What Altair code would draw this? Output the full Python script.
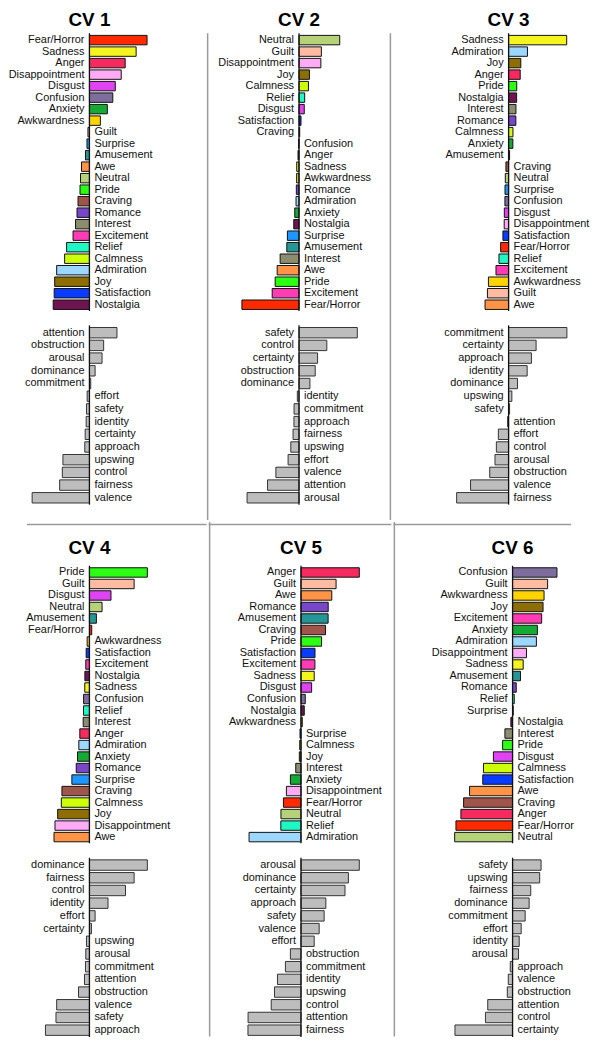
import altair as alt
import pandas as pd

FONT = "Liberation Sans"

# ---------------- data ----------------
emotion_colors = {
    "Fear/Horror": "#ff2a00", "Sadness": "#f4f41e", "Anger": "#f52a5f",
    "Disappointment": "#ffaaf5", "Disgust": "#e043f2", "Confusion": "#7d6e9e",
    "Anxiety": "#14aa35", "Awkwardness": "#ffd400", "Guilt": "#ffbca2",
    "Surprise": "#1e96ff", "Amusement": "#249696", "Awe": "#ff9446",
    "Neutral": "#b5d278", "Pride": "#2aff14", "Craving": "#a0554b",
    "Romance": "#7846c8", "Interest": "#8c8c6e", "Excitement": "#ff3cb4",
    "Relief": "#1ef8c3", "Calmness": "#cdff0a", "Admiration": "#9bd7ff",
    "Joy": "#8c6e05", "Satisfaction": "#0a3cff", "Nostalgia": "#6e1450",
}

titles = ["CV 1", "CV 2", "CV 3", "CV 4", "CV 5", "CV 6"]

cv1_emotions = ["Fear/Horror", "Sadness", "Anger", "Disappointment", "Disgust", "Confusion",
                "Anxiety", "Awkwardness", "Guilt", "Surprise", "Amusement", "Awe", "Neutral",
                "Pride", "Craving", "Romance", "Interest", "Excitement", "Relief", "Calmness",
                "Admiration", "Joy", "Satisfaction", "Nostalgia"]
cv1_emotion_values = [0.58, 0.47, 0.36, 0.32, 0.26, 0.235, 0.18, 0.11, -0.015, -0.025, -0.04,
                      -0.08, -0.09, -0.095, -0.115, -0.125, -0.14, -0.165, -0.23, -0.25, -0.33,
                      -0.35, -0.355, -0.365]

cv2_emotions = ["Neutral", "Guilt", "Disappointment", "Joy", "Calmness", "Relief", "Disgust",
                "Satisfaction", "Craving", "Confusion", "Anger", "Sadness", "Awkwardness",
                "Romance", "Admiration", "Anxiety", "Nostalgia", "Surprise", "Amusement",
                "Interest", "Awe", "Pride", "Excitement", "Fear/Horror"]
cv2_emotion_values = [0.41, 0.225, 0.22, 0.105, 0.095, 0.057, 0.053, 0.02, 0.007, -0.003, -0.01,
                      -0.023, -0.024, -0.027, -0.03, -0.043, -0.053, -0.117, -0.123, -0.19,
                      -0.22, -0.24, -0.27, -0.575]

cv3_emotions = ["Sadness", "Admiration", "Joy", "Anger", "Pride", "Nostalgia", "Interest",
                "Romance", "Calmness", "Anxiety", "Amusement", "Craving", "Neutral", "Surprise",
                "Confusion", "Disgust", "Disappointment", "Satisfaction", "Fear/Horror", "Relief",
                "Excitement", "Awkwardness", "Guilt", "Awe"]
cv3_emotion_values = [0.585, 0.19, 0.123, 0.117, 0.082, 0.081, 0.074, 0.073, 0.044, 0.043, 0.01,
                      -0.027, -0.033, -0.036, -0.037, -0.043, -0.044, -0.057, -0.08, -0.097,
                      -0.127, -0.203, -0.213, -0.237]

cv4_emotions = ["Pride", "Guilt", "Disgust", "Neutral", "Amusement", "Fear/Horror", "Awkwardness",
                "Satisfaction", "Excitement", "Nostalgia", "Sadness", "Confusion", "Relief",
                "Interest", "Anger", "Admiration", "Anxiety", "Romance", "Surprise", "Craving",
                "Calmness", "Joy", "Disappointment", "Awe"]
cv4_emotion_values = [0.583, 0.45, 0.217, 0.127, 0.07, 0.023, -0.023, -0.033, -0.037, -0.046,
                      -0.047, -0.059, -0.06, -0.063, -0.097, -0.107, -0.12, -0.133, -0.177,
                      -0.277, -0.283, -0.32, -0.347, -0.357]

cv5_emotions = ["Anger", "Guilt", "Awe", "Romance", "Amusement", "Craving", "Pride",
                "Satisfaction", "Excitement", "Sadness", "Disgust", "Confusion", "Nostalgia",
                "Awkwardness", "Surprise", "Calmness", "Joy", "Interest", "Anxiety",
                "Disappointment", "Fear/Horror", "Neutral", "Relief", "Admiration"]
cv5_emotion_values = [0.587, 0.353, 0.31, 0.274, 0.273, 0.247, 0.207, 0.141, 0.14, 0.133, 0.107,
                      0.043, 0.033, 0.013, -0.01, -0.013, -0.017, -0.053, -0.107, -0.147,
                      -0.177, -0.202, -0.203, -0.523]

cv6_emotions = ["Confusion", "Guilt", "Awkwardness", "Joy", "Excitement", "Anxiety", "Admiration",
                "Disappointment", "Sadness", "Amusement", "Romance", "Relief", "Surprise",
                "Nostalgia", "Interest", "Pride", "Disgust", "Calmness", "Satisfaction", "Awe",
                "Craving", "Anger", "Fear/Horror", "Neutral"]
cv6_emotion_values = [0.447, 0.353, 0.317, 0.307, 0.293, 0.25, 0.24, 0.14, 0.107, 0.08, 0.037,
                      0.017, 0.007, -0.017, -0.077, -0.1, -0.193, -0.293, -0.3, -0.433, -0.493,
                      -0.52, -0.57, -0.583]

cv1_dims = ["attention", "obstruction", "arousal", "dominance", "commitment", "effort", "safety",
            "identity", "certainty", "approach", "upswing", "control", "fairness", "valence"]
cv1_dim_values = [0.277, 0.143, 0.127, 0.057, 0.013, -0.023, -0.03, -0.033, -0.043, -0.047,
                  -0.267, -0.273, -0.3, -0.577]

cv2_dims = ["safety", "control", "certainty", "obstruction", "dominance", "identity", "commitment",
            "approach", "fairness", "upswing", "effort", "valence", "attention", "arousal"]
cv2_dim_values = [0.587, 0.28, 0.187, 0.163, 0.11, -0.017, -0.05, -0.051, -0.06, -0.083, -0.11,
                  -0.233, -0.317, -0.523]

cv3_dims = ["commitment", "certainty", "approach", "identity", "dominance", "upswing", "safety",
            "attention", "effort", "control", "arousal", "obstruction", "valence", "fairness"]
cv3_dim_values = [0.587, 0.277, 0.23, 0.187, 0.09, 0.033, 0.01, -0.01, -0.103, -0.123, -0.137,
                  -0.19, -0.383, -0.523]

cv4_dims = ["dominance", "fairness", "control", "identity", "effort", "certainty", "upswing",
            "arousal", "commitment", "attention", "obstruction", "valence", "safety", "approach"]
cv4_dim_values = [0.583, 0.45, 0.363, 0.187, 0.057, 0.02, -0.03, -0.037, -0.04, -0.05, -0.11,
                  -0.33, -0.337, -0.443]

cv5_dims = ["arousal", "dominance", "certainty", "approach", "safety", "valence", "effort",
            "obstruction", "commitment", "identity", "upswing", "control", "attention", "fairness"]
cv5_dim_values = [0.587, 0.477, 0.443, 0.25, 0.233, 0.183, 0.133, -0.107, -0.157, -0.237, -0.267,
                  -0.3, -0.533, -0.534]

cv6_dims = ["safety", "upswing", "fairness", "dominance", "commitment", "effort", "identity",
            "arousal", "approach", "valence", "obstruction", "attention", "control", "certainty"]
cv6_dim_values = [0.287, 0.273, 0.183, 0.167, 0.127, 0.087, 0.067, 0.06, -0.023, -0.043, -0.053,
                  -0.25, -0.273, -0.58]

emotion_sets = [(cv1_emotions, cv1_emotion_values), (cv2_emotions, cv2_emotion_values),
                (cv3_emotions, cv3_emotion_values), (cv4_emotions, cv4_emotion_values),
                (cv5_emotions, cv5_emotion_values), (cv6_emotions, cv6_emotion_values)]
dim_sets = [(cv1_dims, cv1_dim_values), (cv2_dims, cv2_dim_values), (cv3_dims, cv3_dim_values),
            (cv4_dims, cv4_dim_values), (cv5_dims, cv5_dim_values), (cv6_dims, cv6_dim_values)]

# ---------------- layout (pixels inside each cell) ----------------
COL_W = [200, 184, 203]          # total 587 = page width minus body margins
ZERO_AT = [82, 93, 120]
PX_PER_UNIT = 100.0
CELL_H = [513, 519]
TITLE_BASE = [15, 32]
EMO_RANGE = [(23, 301), (45, 323)]
DIM_RANGE = [(317, 496), (339, 518)]
VSEP_TOP = [22, 0]
HSEP_Y = 2.5
HSEP_X = [(19, COL_W[0]), (0, COL_W[1]), (0, 179)]
PAD_IN = 0.18
SEP = "#9a9a9a"

one = pd.DataFrame({"z": [0.0]})
emo_domain = list(emotion_colors.keys())
emo_range = list(emotion_colors.values())


def cell(k, ci, row):
    W, H = COL_W[ci], CELL_H[row]
    xs = alt.Scale(domain=[-ZERO_AT[ci] / PX_PER_UNIT, (W - ZERO_AT[ci]) / PX_PER_UNIT], nice=False)

    def X(f):
        return alt.X(f, scale=xs, axis=None)

    layers = []
    for kind, (names, vals), rng in (("emo", emotion_sets[k], EMO_RANGE[row]),
                                     ("dim", dim_sets[k], DIM_RANGE[row])):
        df = pd.DataFrame({"name": names, "value": vals})
        Y = alt.Y("name:N", axis=None, sort=None,
                  scale=alt.Scale(domain=list(names), range=list(rng),
                                  paddingInner=PAD_IN, paddingOuter=PAD_IN / 2))
        if kind == "emo":
            bars = alt.Chart(df).mark_bar(stroke="#111111", strokeWidth=1).encode(
                x=X("value:Q"), y=Y,
                color=alt.Color("name:N", scale=alt.Scale(domain=emo_domain, range=emo_range),
                                legend=None))
        else:
            bars = alt.Chart(df).mark_bar(stroke="#333333", strokeWidth=1,
                                          fill="#bdbdbd").encode(x=X("value:Q"), y=Y)
        txt = dict(fontSize=11, font=FONT, color="#111111", baseline="middle")
        lab_pos = (alt.Chart(df).transform_filter("datum.value > 0").transform_calculate(z="0")
                   .mark_text(align="right", dx=-5, **txt)
                   .encode(x=X("z:Q"), y=Y, text="name:N"))
        lab_neg = (alt.Chart(df).transform_filter("datum.value <= 0").transform_calculate(z="0")
                   .mark_text(align="left", dx=5, **txt)
                   .encode(x=X("z:Q"), y=Y, text="name:N"))
        zero_line = alt.Chart(one).mark_rule(color="#111111", strokeWidth=1.3).encode(
            x=X("z:Q"), y=alt.value(rng[0] - 1), y2=alt.value(rng[1] + 0.5))
        layers += [bars, lab_pos, lab_neg, zero_line]

    tdf = pd.DataFrame({"t": [titles[k]], "z": [0.0]})
    layers.append(alt.Chart(tdf).mark_text(fontSize=19, fontWeight="bold", font=FONT,
                                           align="center", baseline="alphabetic",
                                           color="#000000")
                  .encode(x=X("z:Q"), y=alt.value(TITLE_BASE[row]), text="t:N"))
    if ci > 0:
        layers.append(alt.Chart(one).mark_rule(color=SEP, strokeWidth=1.5).encode(
            x=alt.value(1), y=alt.value(VSEP_TOP[row]), y2=alt.value(H - 1)))
    if row == 1:
        xa, xb = HSEP_X[ci]
        layers.append(alt.Chart(one).mark_rule(color=SEP, strokeWidth=1.5).encode(
            y=alt.value(HSEP_Y), x=alt.value(xa), x2=alt.value(xb)))

    return (alt.layer(*layers).resolve_scale(y="independent")
            .properties(width=W, height=H))


rows = []
for r in range(2):
    rows.append(alt.hconcat(*[cell(r * 3 + c, c, r) for c in range(3)], spacing=0)
                .resolve_scale(x="independent", y="independent"))

chart = (alt.vconcat(*rows, spacing=0)
         .resolve_scale(x="independent", y="independent")
         .properties(padding=0)
         .configure_view(strokeWidth=0))

chart.save("out.html", embed_options={"renderer": "svg", "actions": False})
